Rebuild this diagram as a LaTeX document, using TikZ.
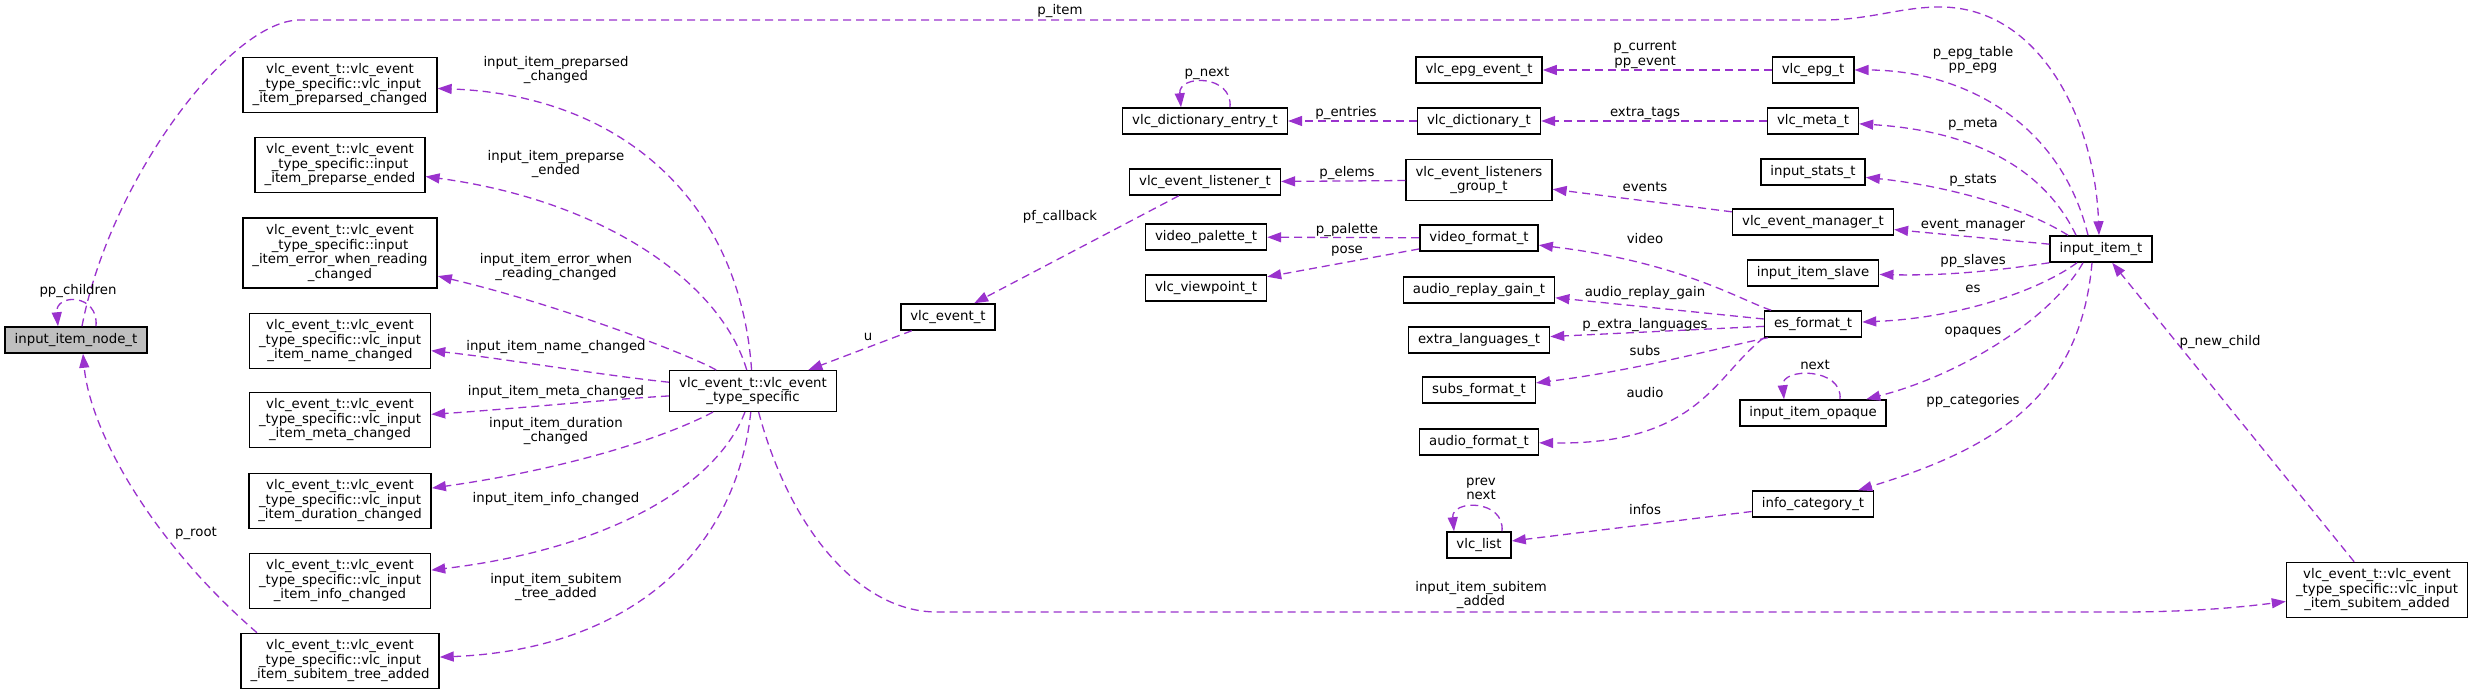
\documentclass[tikz,border=0pt]{standalone}
\usepackage{fontspec}
\setmainfont{DejaVu Sans}
\usetikzlibrary{arrows.meta}
\definecolor{usecol}{HTML}{9A32CD}
\tikzset{
collab/.style={
    x=1pt,
    y=-1pt,
    font=\fontsize{13.3}{14.5}\selectfont
},
cls/.style={
    rectangle,
    draw,
    line width=1.5pt,
    align=center,
    inner xsep=9.5pt,
    inner ysep=6.4pt,
    minimum height=26pt,
    fill=white
},
subject/.style={
    cls,
    fill=gray!50
},
uses/.style={
    -{Triangle[length=14pt,width=10pt]},
    draw=usecol,
    line width=1.3pt,
    dash pattern=on 8pt off 5pt
},
lbl/.style={
    inner sep=0pt,
    align=center
}}

\begin{document}
\begin{tikzpicture}[collab]
\useasboundingbox (0,0) rectangle (2473,695);

\node[subject] (nt)   at (76,340)   {input\_item\_node\_t};
\node[cls]     (pc)   at (340,85)   {vlc\_event\_t::vlc\_event\\\_type\_specific::vlc\_input\\\_item\_preparsed\_changed};
\node[cls]     (pe)   at (340,165)  {vlc\_event\_t::vlc\_event\\\_type\_specific::input\\\_item\_preparse\_ended};
\node[cls]     (er)   at (340,253)  {vlc\_event\_t::vlc\_event\\\_type\_specific::input\\\_item\_error\_when\_reading\\\_changed};
\node[cls]     (nc)   at (340,341)  {vlc\_event\_t::vlc\_event\\\_type\_specific::vlc\_input\\\_item\_name\_changed};
\node[cls]     (mc)   at (340,420)  {vlc\_event\_t::vlc\_event\\\_type\_specific::vlc\_input\\\_item\_meta\_changed};
\node[cls]     (dc)   at (340,501)  {vlc\_event\_t::vlc\_event\\\_type\_specific::vlc\_input\\\_item\_duration\_changed};
\node[cls]     (ic)   at (340,581)  {vlc\_event\_t::vlc\_event\\\_type\_specific::vlc\_input\\\_item\_info\_changed};
\node[cls]     (sta)  at (340,661)  {vlc\_event\_t::vlc\_event\\\_type\_specific::vlc\_input\\\_item\_subitem\_tree\_added};
\node[cls]     (ts)   at (753,391)  {vlc\_event\_t::vlc\_event\\\_type\_specific};
\node[cls]     (ve)   at (948,317)  {vlc\_event\_t};
\node[cls]     (vde)  at (1205,121) {vlc\_dictionary\_entry\_t};
\node[cls]     (vel)  at (1205,182) {vlc\_event\_listener\_t};
\node[cls]     (vpal) at (1206,237) {video\_palette\_t};
\node[cls]     (vvp)  at (1206,288) {vlc\_viewpoint\_t};
\node[cls]     (vee)  at (1479,70)  {vlc\_epg\_event\_t};
\node[cls]     (vd)   at (1479,121) {vlc\_dictionary\_t};
\node[cls]     (vlg)  at (1479,180) {vlc\_event\_listeners\\\_group\_t};
\node[cls]     (vf)   at (1479,238) {video\_format\_t};
\node[cls]     (arg)  at (1479,290) {audio\_replay\_gain\_t};
\node[cls]     (xl)   at (1479,340) {extra\_languages\_t};
\node[cls]     (sf)   at (1479,390) {subs\_format\_t};
\node[cls]     (af)   at (1479,442) {audio\_format\_t};
\node[cls]     (vl)   at (1479,545) {vlc\_list};
\node[cls]     (vepg) at (1813,70)  {vlc\_epg\_t};
\node[cls]     (vm)   at (1813,121) {vlc\_meta\_t};
\node[cls]     (ist)  at (1813,172) {input\_stats\_t};
\node[cls]     (vem)  at (1813,222) {vlc\_event\_manager\_t};
\node[cls]     (isl)  at (1813,273) {input\_item\_slave};
\node[cls]     (es)   at (1813,324) {es\_format\_t};
\node[cls]     (iop)  at (1813,413) {input\_item\_opaque};
\node[cls]     (icat) at (1813,504) {info\_category\_t};
\node[cls]     (it)   at (2101,249) {input\_item\_t};
\node[cls]     (sa)   at (2377,590) {vlc\_event\_t::vlc\_event\\\_type\_specific::vlc\_input\\\_item\_subitem\_added};

% input_item_node_t
\draw[uses] ([xshift=6pt]nt.north) .. controls (110,180) and (230,20) .. (300,20) -- (1823,20) .. controls (1870,20) and (1900,7) .. (1940,7) .. controls (2040,7) and (2095,120) .. ([xshift=-2pt]it.north);
\draw[uses] ([xshift=20pt]nt.north) .. controls +(3,-33) and +(-3,-33) .. ([xshift=-18pt]nt.north);
\draw[uses] ([xshift=-83pt]sta.north) .. controls (150,540) and (90,430) .. ([xshift=7pt]nt.south);

% vlc_event_type_specific
\draw[uses] (ts) .. controls (740,200) and (620,95) .. (pc);
\draw[uses] (ts) .. controls (720,280) and (600,200) .. (pe);
\draw[uses] (ts) .. controls (690,355) and (560,305) .. (er);
\draw[uses] (ts) .. controls (600,375) and (500,358) .. (nc);
\draw[uses] (ts) .. controls (600,400) and (500,410) .. (mc);
\draw[uses] (ts) .. controls (660,440) and (560,470) .. (dc);
\draw[uses] (ts) .. controls (715,490) and (600,550) .. (ic);
\draw[uses] (ts) .. controls (735,560) and (620,650) .. (sta);
\draw[uses] (ts) .. controls (790,530) and (860,612) .. (937,612) -- (2120,612) .. controls (2200,612) and (2250,606) .. (sa);

\path (ve)   edge[uses] (ts);
\path (vel)  edge[uses] (ve);
\path (vd)   edge[uses] (vde);
\path (vlg)  edge[uses] (vel);
\path (vf)   edge[uses] (vpal);
\path (vf)   edge[uses] (vvp);
\path (vepg) edge[uses] (vee);
\path (vm)   edge[uses] (vd);
\path (vem)  edge[uses] (vlg);
\path (es)   edge[uses] (arg);
\path (es)   edge[uses] (xl);
\path (icat) edge[uses] (vl);
\path (it)   edge[uses] (vem);
\path (sa)   edge[uses] (it);

\draw[uses] (es) .. controls (1740,300) and (1680,262) .. (vf);
\draw[uses] ([xshift=4pt]es.south west) .. controls (1730,345) and (1640,370) .. (sf);
\draw[uses] (es.south west) .. controls (1715,375) and (1700,445) .. (af);

% self loops
\draw[uses] ([xshift=25pt]vde.north) .. controls +(3,-33) and +(-3,-33) .. ([xshift=-24pt]vde.north);
\draw[uses] ([xshift=23pt]vl.north) .. controls +(3,-32) and +(-3,-32) .. ([xshift=-25pt]vl.north);
\draw[uses] ([xshift=27pt]iop.north) .. controls +(3,-32) and +(-3,-32) .. ([xshift=-29pt]iop.north);

% input_item_t
\draw[uses] ([xshift=-13pt]it.north) .. controls (2060,120) and (1960,70) .. (vepg);
\draw[uses] ([xshift=-25pt]it.north) .. controls (2040,160) and (1960,130) .. (vm);
\draw[uses] ([xshift=-33pt]it.north) .. controls (2020,205) and (1940,185) .. (ist);
\draw[uses] (it.south west) .. controls (2000,270) and (1950,276) .. (isl);
\draw[uses] ([xshift=-24pt]it.south) .. controls (2040,290) and (1960,318) .. (es);
\draw[uses] ([xshift=-18pt]it.south) .. controls (2050,320) and (1960,375) .. (iop);
\draw[uses] ([xshift=-9pt]it.south) .. controls (2080,400) and (1990,450) .. (icat);

% labels
\node[lbl] (l-pitem)  at (1060,11)  {p\_item};
\node[lbl] (l-ppch)   at (78,291)   {pp\_children};
\node[lbl] (l-proot)  at (196,533)  {p\_root};
\node[lbl] (l-prpd)   at (556,70)   {input\_item\_preparsed\\\_changed};
\node[lbl] (l-prpe)   at (556,164)  {input\_item\_preparse\\\_ended};
\node[lbl] (l-err)    at (556,267)  {input\_item\_error\_when\\\_reading\_changed};
\node[lbl] (l-name)   at (556,347)  {input\_item\_name\_changed};
\node[lbl] (l-meta)   at (556,392)  {input\_item\_meta\_changed};
\node[lbl] (l-dur)    at (556,431)  {input\_item\_duration\\\_changed};
\node[lbl] (l-info)   at (556,499)  {input\_item\_info\_changed};
\node[lbl] (l-tree)   at (556,587)  {input\_item\_subitem\\\_tree\_added};
\node[lbl] (l-sub)    at (1481,595) {input\_item\_subitem\\\_added};
\node[lbl] (l-u)      at (868,337)  {u};
\node[lbl] (l-pfcb)   at (1060,217) {pf\_callback};
\node[lbl] (l-pnext)  at (1207,73)  {p\_next};
\node[lbl] (l-pent)   at (1346,113) {p\_entries};
\node[lbl] (l-pelem)  at (1347,173) {p\_elems};
\node[lbl] (l-ppal)   at (1347,230) {p\_palette};
\node[lbl] (l-pose)   at (1347,251) {pose};
\node[lbl] (l-pcur)   at (1645,55)  {p\_current\\pp\_event};
\node[lbl] (l-xtags)  at (1645,113) {extra\_tags};
\node[lbl] (l-events) at (1645,187) {events};
\node[lbl] (l-video)  at (1645,239) {video};
\node[lbl] (l-arg)    at (1645,293) {audio\_replay\_gain};
\node[lbl] (l-pxl)    at (1645,325) {p\_extra\_languages};
\node[lbl] (l-subs)   at (1645,351) {subs};
\node[lbl] (l-audio)  at (1645,393) {audio};
\node[lbl] (l-prnx)   at (1481,489) {prev\\next};
\node[lbl] (l-infos)  at (1645,510) {infos};
\node[lbl] (l-next)   at (1815,365) {next};
\node[lbl] (l-pepg)   at (1973,60)  {p\_epg\_table\\pp\_epg};
\node[lbl] (l-pmeta)  at (1973,124) {p\_meta};
\node[lbl] (l-pstat)  at (1973,180) {p\_stats};
\node[lbl] (l-evmgr)  at (1973,225) {event\_manager};
\node[lbl] (l-ppsl)   at (1973,261) {pp\_slaves};
\node[lbl] (l-es)     at (1973,289) {es};
\node[lbl] (l-opq)    at (1973,332) {opaques};
\node[lbl] (l-ppcat)  at (1973,401) {pp\_categories};
\node[lbl] (l-pnew)   at (2220,342) {p\_new\_child};
\end{tikzpicture}
\end{document}
